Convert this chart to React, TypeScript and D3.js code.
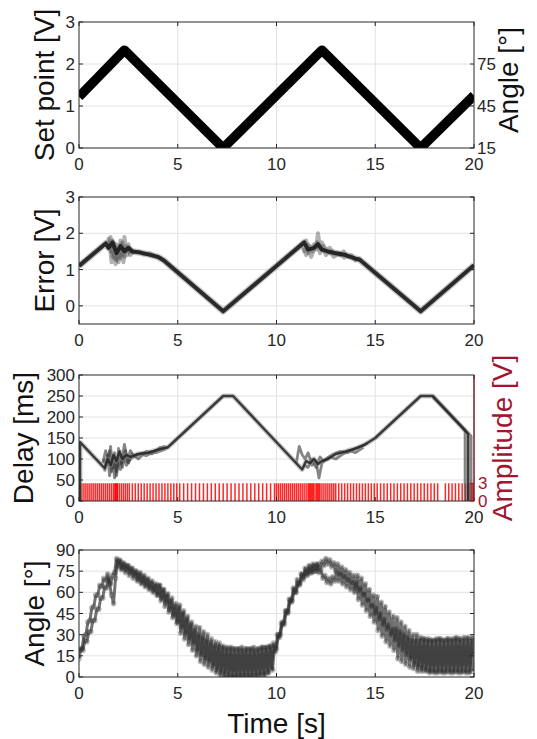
import { useEffect, useRef } from "react";
import * as d3 from "d3";

// shared time axis
const timeTicks = [0, 5, 10, 15, 20];

// panel 1: set point [V] with angle on the right
const setPointTicks = [0, 1, 2, 3];
const setPointAngleTicks = [15, 45, 75];
const setPointTime = [0, 2.3, 7.3, 12.3, 17.3, 20];
const setPointVolt = [1.22, 2.33, 0.0, 2.33, 0.0, 1.25];

// panel 2: error [V]
const errorTicks = [0, 1, 2, 3];
const errorMain: [number, number][] = [
    [0, 1.1], [1.35, 1.72], [1.5, 1.6], [1.7, 1.75], [1.9, 1.45], [2.1, 1.65], [2.3, 1.5], [2.5, 1.6],
    [2.7, 1.5], [3.0, 1.48], [3.5, 1.42], [4.0, 1.35], [4.3, 1.25], [7.3, -0.15], [11.4, 1.75],
    [11.6, 1.55], [11.9, 1.6], [12.1, 1.7], [12.3, 1.55], [12.6, 1.5], [13.0, 1.45], [13.5, 1.4],
    [14.0, 1.3], [14.2, 1.28], [17.3, -0.15], [20, 1.12]
];
const errorNoise: [number, number][][] = [
    [[1.4, 1.7], [1.5, 1.85], [1.6, 1.5], [1.7, 1.8], [1.8, 1.3], [1.9, 1.7], [2.0, 1.2], [2.1, 1.8],
     [2.2, 1.4], [2.3, 1.9], [2.4, 1.5], [2.5, 1.7], [2.6, 1.4], [2.8, 1.55]],
    [[1.5, 1.6], [1.6, 1.9], [1.7, 1.35], [1.8, 1.7], [1.9, 1.25], [2.0, 1.6], [2.1, 1.3], [2.2, 1.75],
     [2.3, 1.35], [2.4, 1.65], [2.6, 1.45]],
    [[1.45, 1.55], [1.55, 1.75], [1.65, 1.2], [1.75, 1.6], [1.85, 1.15], [1.95, 1.5], [2.05, 1.35],
     [2.15, 1.7], [2.25, 1.2], [2.35, 1.6], [2.45, 1.4], [2.6, 1.55], [2.8, 1.45]],
    [[3.0, 1.5], [3.3, 1.42], [3.6, 1.45], [3.9, 1.35], [4.2, 1.3]],
    [[11.3, 1.7], [11.4, 1.5], [11.5, 1.8], [11.6, 1.45], [11.7, 1.65], [11.8, 1.5], [11.9, 1.7],
     [12.0, 1.55], [12.1, 2.0], [12.2, 1.6], [12.3, 1.75], [12.5, 1.55], [12.7, 1.6], [12.9, 1.45]],
    [[11.4, 1.6], [11.5, 1.4], [11.6, 1.7], [11.75, 1.35], [11.9, 1.55], [12.05, 1.75], [12.2, 1.45],
     [12.35, 1.65], [12.5, 1.4], [12.7, 1.5], [12.9, 1.35], [13.2, 1.45], [13.5, 1.3]],
    [[13.0, 1.5], [13.2, 1.4], [13.4, 1.5], [13.6, 1.35], [13.8, 1.4], [14.0, 1.25], [14.2, 1.3]]
];

// panel 3: delay [ms] and stimulus amplitude [V]
const delayTicks = [0, 50, 100, 150, 200, 250, 300];
const amplitudeTicks = [0, 3];
const delayMain: [number, number][] = [
    [0.05, 0], [0.05, 140], [1.3, 78], [1.45, 100], [1.6, 85], [1.75, 110], [1.9, 95], [2.05, 118],
    [2.2, 100], [2.4, 110], [2.6, 105], [3.0, 112], [3.5, 115], [4.0, 122], [4.5, 128], [7.3, 250],
    [7.8, 250], [11.3, 75], [11.5, 95], [11.7, 90], [11.9, 100], [12.1, 88], [12.3, 95], [12.6, 100],
    [13.0, 112], [13.5, 118], [14.0, 125], [14.5, 135], [15.0, 150], [17.3, 250], [17.9, 250],
    [19.7, 160], [19.7, 0]
];
const delayNoise: [number, number][][] = [
    [[1.2, 90], [1.35, 120], [1.5, 95], [1.6, 130], [1.7, 80], [1.8, 115], [1.9, 70], [2.0, 125],
     [2.15, 90], [2.3, 135], [2.45, 95], [2.6, 120], [2.8, 105], [3.1, 112], [3.4, 108], [3.8, 118],
     [4.1, 125], [4.3, 130], [4.5, 125]],
    [[1.3, 70], [1.45, 110], [1.55, 60], [1.7, 100], [1.8, 55], [1.95, 95], [2.1, 75], [2.25, 110],
     [2.4, 85], [2.6, 100], [2.9, 110], [3.3, 115], [3.7, 112], [4.1, 128], [4.4, 122]],
    [[1.25, 100], [1.4, 85], [1.55, 120], [1.65, 70], [1.8, 100], [1.9, 60], [2.05, 105], [2.2, 80],
     [2.35, 120], [2.5, 90], [2.7, 112], [3.0, 100], [3.4, 118], [3.9, 115], [4.3, 122]],
    [[11.0, 90], [11.15, 130], [11.3, 110], [11.45, 100], [11.6, 115], [11.8, 85], [12.0, 95],
     [12.15, 55], [12.3, 90], [12.5, 100], [12.8, 110], [13.2, 118], [13.6, 115], [14.0, 125],
     [14.3, 130], [14.6, 138]],
    [[11.4, 85], [11.6, 80], [11.8, 100], [12.0, 80], [12.2, 105], [12.4, 95], [12.7, 105], [13.0, 100],
     [13.3, 110], [13.7, 120], [14.0, 115], [14.4, 128]],
    [[17.9, 252], [19.55, 170], [19.55, 0]],
    [[17.9, 248], [19.85, 155], [19.85, 0]]
];
const eventAmplitude = 3;
const eventTimes = [
    0.05, 0.15, 0.25, 0.35, 0.45, 0.55, 0.65, 0.75, 0.85, 0.95, 1.05, 1.15, 1.25, 1.35, 1.45, 1.55,
    1.65, 1.75, 1.82, 1.85, 1.88, 1.94, 1.95, 2.05, 2.15, 2.25, 2.35, 2.45, 2.55,
    2.7, 2.85, 3.0, 3.15, 3.3, 3.45, 3.6, 3.75, 3.9, 4.05, 4.2, 4.35, 4.5, 4.65, 4.8, 4.95,
    5.1, 5.3, 5.5, 5.7, 5.9, 6.1, 6.3, 6.5, 6.7, 6.9, 7.1, 7.3, 7.5, 7.7, 7.9, 8.1, 8.3, 8.5, 8.7,
    8.9, 9.1, 9.3, 9.5, 9.7, 9.9,
    10.0, 10.1, 10.2, 10.3, 10.4, 10.5, 10.6, 10.7, 10.8, 10.9, 11.0, 11.1, 11.2, 11.3, 11.4, 11.5,
    11.6, 11.65, 11.7, 11.75, 11.8, 11.85, 11.9, 12.0, 12.05, 12.1, 12.15, 12.2, 12.3, 12.4, 12.5,
    12.6, 12.7, 12.8, 12.9, 13.0,
    13.15, 13.3, 13.45, 13.6, 13.75, 13.9, 14.05, 14.2, 14.35, 14.5, 14.65, 14.8, 14.95,
    15.1, 15.27, 15.44, 15.61, 15.78, 15.95, 16.12, 16.29, 16.46, 16.63, 16.8, 16.97, 17.14, 17.31,
    17.48, 17.65, 17.82, 17.99, 18.16, 18.55, 18.72, 18.89, 19.06, 19.23, 19.4, 19.57, 19.7, 19.8,
    19.9, 19.97
];

// panel 4: measured angle [deg], two trials sampled every 0.1 s
const angleTicks = [0, 15, 30, 45, 60, 75, 90];
const angleStep = 0.1;
const angleTrialA = [
    13, 20, 19, 26, 25, 32, 32, 40, 40, 48,
    48, 56, 56, 64, 63, 70, 66, 72, 74, 84,
    78, 82, 77, 80, 76, 79, 74, 77, 72, 75,
    69, 74, 67, 72, 65, 70, 63, 68, 61, 66,
    58, 65, 56, 62, 53, 59, 48, 56, 44, 52,
    39, 51, 35, 47, 31, 43, 27, 39, 24, 36,
    19, 35, 16, 32, 13, 30, 11, 27, 8, 25,
    5, 24, 3, 22, 2, 21, 1, 21, 0, 20,
    1, 20, 0, 19, 1, 20, 0, 20, 1, 19,
    1, 20, 2, 21, 1, 21, 3, 22, 5, 22,
    20, 30, 30, 39, 38, 47, 46, 55, 54, 62,
    60, 67, 66, 73, 71, 76, 73, 78, 74, 79,
    75, 80, 77, 82, 79, 84, 80, 83, 78, 81,
    75, 80, 73, 78, 71, 76, 69, 74, 67, 72,
    63, 72, 61, 70, 58, 66, 54, 62, 50, 58,
    45, 57, 41, 53, 37, 50, 34, 46, 30, 43,
    26, 42, 22, 39, 19, 36, 16, 33, 13, 30,
    9, 30, 7, 28, 6, 27, 5, 27, 4, 26,
    3, 27, 4, 27, 3, 26, 4, 27, 3, 27,
    4, 28, 3, 27, 4, 28, 3, 28, 4, 28,
    16
];
const angleTrialB = [
    19, 20, 29, 30, 39, 40, 49, 50, 58, 58,
    65, 64, 70, 68, 73, 66, 58, 52, 70, 82,
    83, 76, 81, 74, 79, 72, 77, 70, 75, 68,
    73, 66, 71, 64, 69, 62, 67, 60, 65, 58,
    65, 54, 62, 50, 58, 46, 54, 42, 50, 38,
    49, 31, 45, 27, 41, 23, 37, 19, 33, 15,
    30, 11, 28, 9, 26, 7, 24, 5, 22, 3,
    22, 1, 21, 0, 20, 0, 20, 0, 20, 0,
    20, 1, 21, 0, 20, 1, 20, 0, 21, 1,
    20, 1, 21, 2, 21, 3, 22, 6, 24, 18,
    30, 28, 38, 37, 47, 45, 55, 53, 63, 60,
    69, 65, 73, 69, 77, 72, 79, 74, 80, 75,
    80, 74, 76, 70, 72, 67, 70, 66, 71, 68,
    74, 68, 73, 66, 71, 64, 69, 62, 67, 60,
    67, 55, 63, 51, 59, 47, 55, 43, 51, 39,
    49, 33, 45, 29, 41, 25, 37, 22, 34, 19,
    34, 13, 32, 11, 30, 9, 28, 7, 26, 6,
    26, 4, 26, 4, 27, 4, 26, 3, 26, 4,
    26, 3, 27, 4, 26, 3, 27, 4, 26, 3,
    27, 4, 27, 3, 26, 4, 27, 3, 26, 4
];

const FONT = "'Liberation Sans', Arial, Helvetica, sans-serif";
const AXIS = "#262626";
const GRID = "#e2e2e2";
const DARK_RED = "#a2142f";
const LEFT = 79;
const RIGHT = 474;

type Sel = d3.Selection<any, unknown, null, undefined>;

function drawChart(svg: Sel) {
    const x = d3.scaleLinear().domain([0, 20]).range([LEFT, RIGHT]);

    // grid + clip, returns group for data marks
    function frame(id: string, top: number, bottom: number, y: d3.ScaleLinear<number, number>, yTicks: number[]) {
        const g = svg.append("g");
        g.selectAll(".gx").data(timeTicks.slice(1, -1)).enter().append("line")
            .attr("x1", d => x(d)).attr("x2", d => x(d))
            .attr("y1", top).attr("y2", bottom)
            .attr("stroke", GRID).attr("stroke-width", 1);
        g.selectAll(".gy").data(yTicks.filter(t => y(t) > top + 1 && y(t) < bottom - 1)).enter().append("line")
            .attr("x1", LEFT).attr("x2", RIGHT)
            .attr("y1", d => y(d)).attr("y2", d => y(d))
            .attr("stroke", GRID).attr("stroke-width", 1);
        svg.append("clipPath").attr("id", id).append("rect")
            .attr("x", LEFT).attr("y", top).attr("width", RIGHT - LEFT).attr("height", bottom - top);
        return svg.append("g").attr("clip-path", "url(#" + id + ")");
    }

    // box, ticks, tick labels
    function axes(top: number, bottom: number, y: d3.ScaleLinear<number, number>, yTicks: number[], mirrorY: boolean) {
        const g = svg.append("g");
        g.append("rect").attr("x", LEFT).attr("y", top).attr("width", RIGHT - LEFT).attr("height", bottom - top)
            .attr("fill", "none").attr("stroke", AXIS).attr("stroke-width", 1);
        timeTicks.forEach(t => {
            g.append("line").attr("x1", x(t)).attr("x2", x(t)).attr("y1", bottom).attr("y2", bottom - 4).attr("stroke", AXIS);
            g.append("line").attr("x1", x(t)).attr("x2", x(t)).attr("y1", top).attr("y2", top + 4).attr("stroke", AXIS);
            g.append("text").attr("x", x(t)).attr("y", bottom + 22)
                .attr("text-anchor", "middle").attr("font-size", 17).attr("font-family", FONT).attr("fill", AXIS)
                .text(t);
        });
        yTicks.forEach(t => {
            g.append("line").attr("x1", LEFT).attr("x2", LEFT + 4).attr("y1", y(t)).attr("y2", y(t)).attr("stroke", AXIS);
            if (mirrorY) {
                g.append("line").attr("x1", RIGHT).attr("x2", RIGHT - 4).attr("y1", y(t)).attr("y2", y(t)).attr("stroke", AXIS);
            }
            g.append("text").attr("x", LEFT - 4).attr("y", y(t)).attr("dy", "0.36em")
                .attr("text-anchor", "end").attr("font-size", 17).attr("font-family", FONT).attr("fill", AXIS)
                .text(t);
        });
        return g;
    }

    function yLabel(text: string, x0: number, yc: number, color = "#111") {
        svg.append("text")
            .attr("transform", "translate(" + x0 + "," + yc + ") rotate(-90)")
            .attr("text-anchor", "middle").attr("font-size", 28).attr("font-family", FONT).attr("fill", color)
            .text(text);
    }

    const line = (y: d3.ScaleLinear<number, number>) => d3.line<[number, number]>().x(d => x(d[0])).y(d => y(d[1]));

    // ---------- panel 1 ----------
    const p1 = { top: 22, bottom: 148 };
    const y1 = d3.scaleLinear().domain([0, 3]).range([p1.bottom, p1.top]);
    const y1r = d3.scaleLinear().domain([15, 105]).range([p1.bottom, p1.top]);
    const g1 = frame("clip1", p1.top, p1.bottom, y1, setPointTicks);
    g1.append("path")
        .datum(setPointTime.map((t, i) => [t, setPointVolt[i]] as [number, number]))
        .attr("d", line(y1)).attr("fill", "none").attr("stroke", "#000").attr("stroke-width", 9.5)
        .attr("stroke-linejoin", "round");
    const a1 = axes(p1.top, p1.bottom, y1, setPointTicks, false);
    setPointAngleTicks.forEach(t => {
        a1.append("line").attr("x1", RIGHT).attr("x2", RIGHT - 4).attr("y1", y1r(t)).attr("y2", y1r(t)).attr("stroke", AXIS);
        a1.append("text").attr("x", RIGHT + 3).attr("y", y1r(t)).attr("dy", "0.36em")
            .attr("font-size", 17).attr("font-family", FONT).attr("fill", AXIS).text(t);
    });
    yLabel("Set point [V]", 54, (p1.top + p1.bottom) / 2);
    yLabel("Angle [°]", 518, 80);

    // ---------- panel 2 ----------
    const p2 = { top: 197, bottom: 324 };
    const y2 = d3.scaleLinear().domain([-0.5, 3]).range([p2.bottom, p2.top]);
    const g2 = frame("clip2", p2.top, p2.bottom, y2, errorTicks);
    errorNoise.forEach(tr => {
        g2.append("path").datum(tr).attr("d", line(y2)).attr("fill", "none")
            .attr("stroke", "#444").attr("stroke-opacity", 0.42).attr("stroke-width", 4)
            .attr("stroke-linejoin", "round");
    });
    g2.append("path").datum(errorMain).attr("d", line(y2)).attr("fill", "none")
        .attr("stroke", "#888").attr("stroke-opacity", 0.5).attr("stroke-width", 6.5)
        .attr("stroke-linejoin", "round");
    g2.append("path").datum(errorMain).attr("d", line(y2)).attr("fill", "none")
        .attr("stroke", "#1a1a1a").attr("stroke-opacity", 0.9).attr("stroke-width", 4)
        .attr("stroke-linejoin", "round");
    axes(p2.top, p2.bottom, y2, errorTicks, true);
    yLabel("Error [V]", 54, (p2.top + p2.bottom) / 2);

    // ---------- panel 3 ----------
    const p3 = { top: 375, bottom: 501 };
    const y3 = d3.scaleLinear().domain([0, 300]).range([p3.bottom, p3.top]);
    const y3r = d3.scaleLinear().domain([0, 21.3]).range([p3.bottom, p3.top]);
    const g3 = frame("clip3", p3.top, p3.bottom, y3, delayTicks);
    g3.selectAll(".ev").data(eventTimes).enter().append("line")
        .attr("x1", d => x(d)).attr("x2", d => x(d))
        .attr("y1", y3r(0)).attr("y2", y3r(eventAmplitude))
        .attr("stroke", "#ff0000").attr("stroke-opacity", 0.85).attr("stroke-width", 1.5);
    delayNoise.forEach(tr => {
        g3.append("path").datum(tr).attr("d", line(y3)).attr("fill", "none")
            .attr("stroke", "#333").attr("stroke-opacity", 0.6).attr("stroke-width", 2.8)
            .attr("stroke-linejoin", "round");
    });
    g3.append("path").datum(delayMain).attr("d", line(y3)).attr("fill", "none")
        .attr("stroke", "#999").attr("stroke-opacity", 0.5).attr("stroke-width", 5)
        .attr("stroke-linejoin", "round");
    g3.append("path").datum(delayMain).attr("d", line(y3)).attr("fill", "none")
        .attr("stroke", "#222").attr("stroke-opacity", 0.85).attr("stroke-width", 2.5)
        .attr("stroke-linejoin", "round");
    const a3 = axes(p3.top, p3.bottom, y3, delayTicks, false);
    a3.append("line").attr("x1", RIGHT).attr("x2", RIGHT).attr("y1", p3.top).attr("y2", p3.bottom)
        .attr("stroke", DARK_RED).attr("stroke-width", 1);
    amplitudeTicks.forEach(t => {
        a3.append("line").attr("x1", RIGHT).attr("x2", RIGHT - 4).attr("y1", y3r(t)).attr("y2", y3r(t)).attr("stroke", DARK_RED);
        a3.append("text").attr("x", RIGHT + 4).attr("y", y3r(t)).attr("dy", "0.36em")
            .attr("font-size", 17).attr("font-family", FONT).attr("fill", DARK_RED).text(t);
    });
    yLabel("Delay [ms]", 33, (p3.top + p3.bottom) / 2);
    yLabel("Amplitude [V]", 512, (p3.top + p3.bottom) / 2, DARK_RED);

    // ---------- panel 4 ----------
    const p4 = { top: 550, bottom: 677 };
    const y4 = d3.scaleLinear().domain([0, 90]).range([p4.bottom, p4.top]);
    const g4 = frame("clip4", p4.top, p4.bottom, y4, angleTicks);
    const trialA = angleTrialA.map((v, i) => [i * angleStep, v] as [number, number]);
    const trialB = angleTrialB.map((v, i) => [angleStep / 2 + i * angleStep, v] as [number, number]);
    [trialA, trialB].forEach(tr => {
        g4.append("path").datum(tr).attr("d", line(y4)).attr("fill", "none")
            .attr("stroke", "#262626").attr("stroke-opacity", 0.65).attr("stroke-width", 3)
            .attr("stroke-linejoin", "round");
        g4.selectAll(null).data(tr).enter().append("circle")
            .attr("cx", d => x(d[0])).attr("cy", d => y4(d[1])).attr("r", 2.2)
            .attr("fill", "none").attr("stroke", "#333").attr("stroke-opacity", 0.35).attr("stroke-width", 1.2);
    });
    axes(p4.top, p4.bottom, y4, angleTicks, true);
    yLabel("Angle [°]", 44, (p4.top + p4.bottom) / 2);
    svg.append("text").attr("x", (LEFT + RIGHT) / 2).attr("y", 733)
        .attr("text-anchor", "middle").attr("font-size", 28).attr("font-family", FONT).attr("fill", "#111")
        .text("Time [s]");
}

export default function App() {
    const ref = useRef<SVGSVGElement | null>(null);

    useEffect(() => {
        const svg = d3.select(ref.current);
        svg.selectAll("*").remove();
        drawChart(svg as Sel);
    }, []);

    return (
        <svg ref={ref} width={537} height={739}
            style={{ position: "absolute", left: 0, top: 0, background: "#fff" }} />
    );
}
